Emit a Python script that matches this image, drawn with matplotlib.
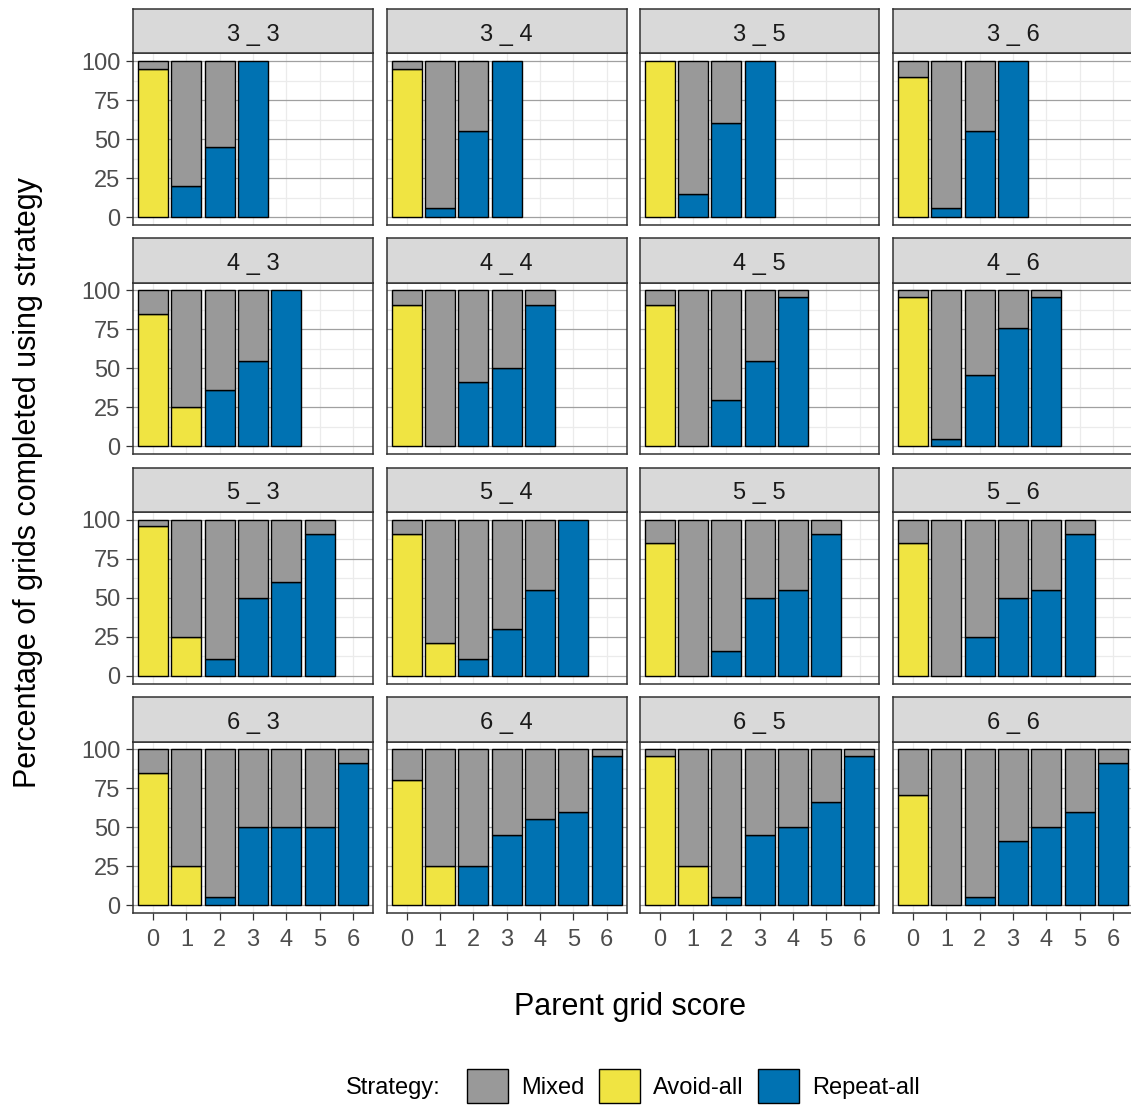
import matplotlib
matplotlib.use("Agg")
import matplotlib.pyplot as plt
from matplotlib.patches import Rectangle
import numpy as np

plt.rcParams["font.family"] = ["Liberation Sans", "DejaVu Sans"]

# Facet labels: first number = grid size (rows), second = facet column
row_levels = [3, 4, 5, 6]
col_levels = [3, 4, 5, 6]
score_ticks = [0, 1, 2, 3, 4, 5, 6]
pct_ticks = [0, 25, 50, 75, 100]

# Percentage of grids per parent score, one list per facet column
avoid_row3 = [[95, 0, 0, 0], [95, 0, 0, 0], [100, 0, 0, 0], [90, 0, 0, 0]]
repeat_row3 = [[0, 20, 45, 100], [0, 5.5, 55, 100], [0, 15, 60, 100], [0, 5.5, 55, 100]]

avoid_row4 = [[85, 25, 0, 0, 0], [91, 0, 0, 0, 0], [91, 0, 0, 0, 0], [96, 0, 0, 0, 0]]
repeat_row4 = [[0, 0, 36, 55, 100], [0, 0, 41, 50, 91], [0, 0, 30, 55, 96], [0, 5, 46, 76, 96]]

avoid_row5 = [[96, 25, 0, 0, 0, 0], [91, 21, 0, 0, 0, 0], [85, 0, 0, 0, 0, 0], [85, 0, 0, 0, 0, 0]]
repeat_row5 = [[0, 0, 11, 50, 60, 91], [0, 0, 11, 30, 55, 100], [0, 0, 16, 50, 55, 91], [0, 0, 25, 50, 55, 91]]

avoid_row6 = [[85, 25, 0, 0, 0, 0, 0], [80, 25, 0, 0, 0, 0, 0], [96, 25, 0, 0, 0, 0, 0], [71, 0, 0, 0, 0, 0, 0]]
repeat_row6 = [[0, 0, 5, 50, 50, 50, 91], [0, 0, 25, 45, 55, 60, 96], [0, 0, 5, 45, 50, 66, 96], [0, 0, 5, 41, 50, 60, 91]]

avoid_by_row = [avoid_row3, avoid_row4, avoid_row5, avoid_row6]
repeat_by_row = [repeat_row3, repeat_row4, repeat_row5, repeat_row6]

strategies = ["Mixed", "Avoid-all", "Repeat-all"]
colors = {"Mixed": "#999999", "Avoid-all": "#F0E442", "Repeat-all": "#0072B2"}

W, H = 1131, 1106
fig = plt.figure(figsize=(W / 100, H / 100), dpi=100)

col_left = [133, 386.7, 639.5, 893]
panel_w = 240
panel_top = [53.3, 282.7, 512.0, 741.5]
panel_h = 171.5
strip_h = 44.5

tick_col = "#333333"
label_col = "#4D4D4D"
bar_w = 0.9


def draw_stack(ax, x, height, bottom, color):
    x = np.asarray(x, float)
    height = np.asarray(height, float)
    bottom = np.asarray(bottom, float)
    keep = height > 0
    if keep.any():
        ax.bar(x[keep], height[keep], bottom=bottom[keep], width=bar_w,
               color=color, edgecolor="black", linewidth=1.0, zorder=3)


for r, row in enumerate(row_levels):
    for c, col in enumerate(col_levels):
        left = col_left[c]
        top = panel_top[r]
        ax = fig.add_axes([left / W, 1 - (top + panel_h) / H, panel_w / W, panel_h / H])
        avoid = np.array(avoid_by_row[r][c], float)
        repeat = np.array(repeat_by_row[r][c], float)
        mixed = 100 - avoid - repeat
        x = np.arange(len(avoid))

        draw_stack(ax, x, repeat, np.zeros_like(repeat), colors["Repeat-all"])
        draw_stack(ax, x, avoid, repeat, colors["Avoid-all"])
        draw_stack(ax, x, mixed, repeat + avoid, colors["Mixed"])

        ax.set_xlim(-0.6, 6.6)
        ax.set_ylim(-5, 105)
        ax.set_xticks(score_ticks)
        ax.set_xticklabels([str(s) for s in score_ticks])
        ax.set_yticks(pct_ticks)
        ax.set_yticklabels([str(p) for p in pct_ticks])
        ax.set_yticks([12.5, 37.5, 62.5, 87.5], minor=True)
        ax.set_axisbelow(True)
        ax.grid(which="major", axis="y", color="#A0A0A0", linewidth=0.9, zorder=0)
        ax.grid(which="minor", axis="y", color="#EBEBEB", linewidth=0.9, zorder=0)
        ax.grid(which="major", axis="x", color="#EBEBEB", linewidth=0.9, zorder=0)
        for sp in ax.spines.values():
            sp.set_color(tick_col)
            sp.set_linewidth(1.1)
            sp.set_zorder(5)
        ax.tick_params(which="minor", length=0)
        ax.tick_params(which="major", length=5, width=0.9, color=tick_col,
                       labelsize=17, labelcolor=label_col)
        ax.tick_params(axis="y", pad=4.2)
        ax.tick_params(axis="x", pad=6.5)
        if c != 0:
            ax.tick_params(axis="y", left=False, labelleft=False)
        if r != len(row_levels) - 1:
            ax.tick_params(axis="x", bottom=False, labelbottom=False)

        # facet strip
        sax = fig.add_axes([left / W, 1 - top / H, panel_w / W, strip_h / H])
        sax.set_facecolor("#D9D9D9")
        sax.set_xticks([])
        sax.set_yticks([])
        for sp in sax.spines.values():
            sp.set_color(tick_col)
            sp.set_linewidth(1.1)
        sax.text(0.5, 0.42, f"{row} _ {col}", transform=sax.transAxes,
                 ha="center", va="center", fontsize=17, color="#1A1A1A")

fig.text(28 / W, 1 - 483 / H, "Percentage of grids completed using strategy",
         rotation=90, ha="center", va="center", fontsize=22, color="black")
fig.text(630 / W, 1 - 1007 / H, "Parent grid score",
         ha="center", va="center", fontsize=22, color="black")

handles = [Rectangle((0, 0), 1, 1, facecolor=colors[s], edgecolor="black", linewidth=1.0)
           for s in strategies]
fig.text(441 / W, 1 - 1088 / H, "Strategy:", ha="right", va="center",
         fontsize=17, color="black")
fig.legend(handles, strategies, ncol=3, frameon=False, fontsize=17,
           loc="center left", bbox_to_anchor=(467 / W, 1 - 1086 / H),
           borderpad=0, borderaxespad=0, handlelength=1.75, handleheight=1.9,
           handletextpad=0.55, columnspacing=0.6)

fig.savefig("out.png", dpi=100, facecolor="white")
